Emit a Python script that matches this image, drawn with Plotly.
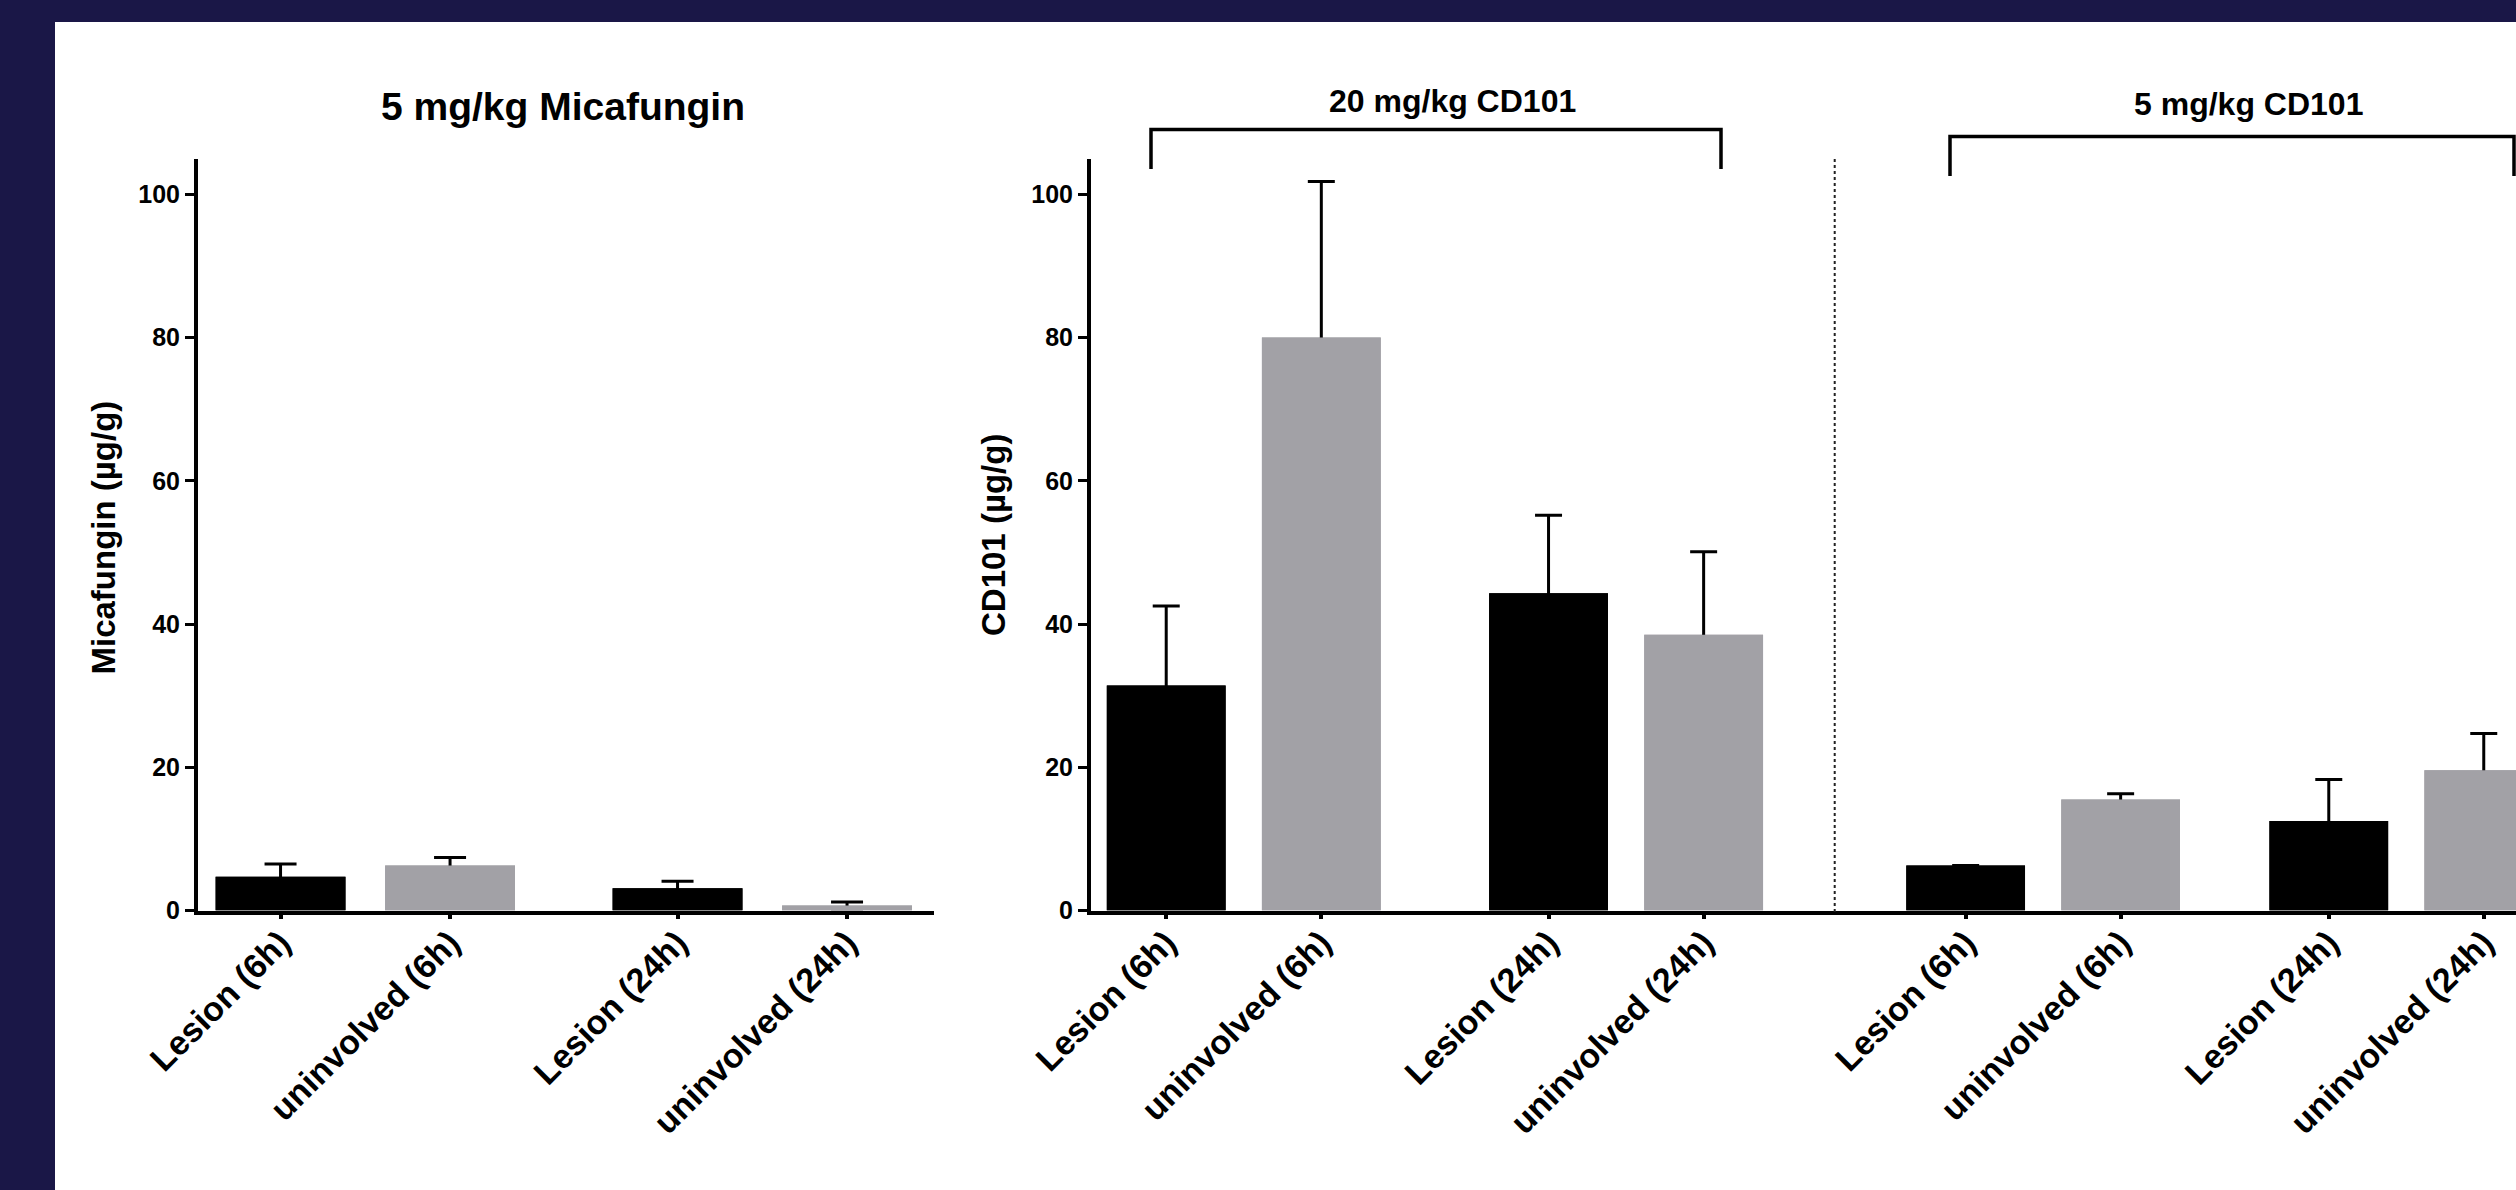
import plotly.graph_objects as go

# ---------------- data ----------------
categories = ["Lesion (6h)", "uninvolved (6h)", "Lesion (24h)", "uninvolved (24h)"]

mica_mean = [4.7, 6.3, 3.1, 0.7]
mica_upper = [6.5, 7.4, 4.1, 1.2]

cd101_20_mean = [31.4, 80.0, 44.3, 38.5]
cd101_20_upper = [42.5, 101.8, 55.2, 50.1]

cd101_5_mean = [6.3, 15.5, 12.5, 19.6]
cd101_5_upper = [6.3, 16.3, 18.3, 24.7]

y_ticks = [0, 20, 40, 60, 80, 100]

panel_titles = ["5 mg/kg Micafungin", "20 mg/kg CD101", "5 mg/kg CD101"]
y_titles = ["Micafungin (µg/g)", "CD101 (µg/g)"]

# ---------------- style ----------------
W, H = 2516, 1190
NAVY = "#1a1747"
BLACK = "#000000"
GREY = "#a2a1a6"
bar_colors = [BLACK, GREY, BLACK, GREY]
FONT = "Liberation Sans, Arial, Helvetica, sans-serif"


def px(x):
    return x / W


def py(y):
    return 1 - y / H


def pair_positions(gap):
    return [0, 1, 1 + gap, 2 + gap]


Y_BOTTOM = py(910.5)
Y_TOP = py(158.5)
BAR_W = 0.766

panels = [
    dict(mean=mica_mean, upper=mica_upper, gap=1.342, xa="x", ya="y", cap=16),
    dict(mean=cd101_20_mean, upper=cd101_20_upper, gap=1.465, xa="x2", ya="y2", cap=13.5),
    dict(mean=cd101_5_mean, upper=cd101_5_upper, gap=1.343, xa="x3", ya="y2", cap=13.5),
]

fig = go.Figure()
for p in panels:
    pos = pair_positions(p["gap"])
    err = [u - m for u, m in zip(p["upper"], p["mean"])]
    # bars with (symmetric) error bars; lower half is hidden by the bar drawn on top
    fig.add_trace(go.Bar(
        x=pos, y=p["mean"], width=BAR_W,
        marker=dict(color=bar_colors, line=dict(width=0)),
        error_y=dict(type="data", symmetric=True, array=err, color=BLACK,
                     thickness=3, width=p["cap"]),
        xaxis=p["xa"], yaxis=p["ya"], showlegend=False, hoverinfo="skip",
    ))
    fig.add_trace(go.Bar(
        x=pos, y=p["mean"], width=BAR_W,
        marker=dict(color=bar_colors, line=dict(width=0)),
        xaxis=p["xa"], yaxis=p["ya"], showlegend=False, hoverinfo="skip",
    ))

common_x = dict(
    showline=True, linecolor=BLACK, linewidth=3.5, ticks="outside",
    ticklen=5, tickwidth=3.5, tickcolor=BLACK, showgrid=False, zeroline=False,
    tickangle=-45, tickfont=dict(family=FONT, size=34, color=BLACK, weight="bold"),
    ticklabelstandoff=-10,
    automargin=False, fixedrange=True,
)
common_y = dict(
    showline=True, linecolor=BLACK, linewidth=4, ticks="outside",
    ticklen=9, tickwidth=3, tickcolor=BLACK, showgrid=False, zeroline=False,
    range=[0, 105], tickvals=y_ticks, ticktext=[str(t) for t in y_ticks],
    tickfont=dict(family=FONT, size=25, color=BLACK, weight="bold"),
    automargin=False, fixedrange=True, domain=[Y_BOTTOM, Y_TOP],
)

fig.update_layout(
    width=W, height=H,
    margin=dict(l=0, r=0, t=0, b=0),
    paper_bgcolor=NAVY, plot_bgcolor="white",
    template="none",
    showlegend=False,
    barmode="overlay",
    xaxis=dict(common_x, domain=[px(198), px(934)], range=[-0.487, 3.855],
               tickvals=pair_positions(panels[0]["gap"]), ticktext=categories, anchor="y"),
    yaxis=dict(common_y, anchor="x"),
    xaxis2=dict(common_x, domain=[px(1091), px(1834.7)], range=[-0.485, 4.31],
                tickvals=pair_positions(panels[1]["gap"]), ticktext=categories, anchor="y2"),
    yaxis2=dict(common_y, anchor="x2"),
    xaxis3=dict(common_x, domain=[px(1834.7), 1.0], range=[-0.845, 3.551],
                tickvals=pair_positions(panels[2]["gap"]), ticktext=categories, anchor="y2"),
)

shapes = [
    # white panel
    dict(type="rect", xref="paper", yref="paper", x0=px(55), x1=1.0, y0=0, y1=py(22),
         fillcolor="white", line=dict(width=0), layer="below"),
    # dotted separator
    dict(type="line", xref="paper", yref="paper", x0=px(1834.7), x1=px(1834.7),
         y0=py(159), y1=py(912), line=dict(color="#222222", width=2, dash="dot")),
    # brackets
    dict(type="path", xref="paper", yref="paper",
         path=f"M {px(1151)},{py(169)} L {px(1151)},{py(129.5)} L {px(1721)},{py(129.5)} L {px(1721)},{py(169)}",
         line=dict(color=BLACK, width=3.5)),
    dict(type="path", xref="paper", yref="paper",
         path=f"M {px(1950)},{py(176)} L {px(1950)},{py(136.5)} L {px(2514)},{py(136.5)} L {px(2514)},{py(176)}",
         line=dict(color=BLACK, width=3.5)),
]
fig.update_layout(shapes=shapes)

annotations = [
    dict(text=panel_titles[0], x=px(563), y=py(106), font=dict(size=39)),
    dict(text=panel_titles[1], x=px(1452), y=py(101), font=dict(size=32)),
    dict(text=panel_titles[2], x=px(2248), y=py(104), font=dict(size=32)),
    dict(text=y_titles[0], x=px(103.5), y=py(537), font=dict(size=33), textangle=-90),
    dict(text=y_titles[1], x=px(993), y=py(535), font=dict(size=33), textangle=-90),
]
for a in annotations:
    a.update(xref="paper", yref="paper", showarrow=False, xanchor="center", yanchor="middle")
    a["font"] = dict(family=FONT, color=BLACK, weight="bold", **a["font"])
fig.update_layout(annotations=annotations)

fig.write_html(
    "out.html",
    config={"displayModeBar": False},
    post_script="document.body.style.margin='0px';document.body.style.overflow='hidden';",
)
